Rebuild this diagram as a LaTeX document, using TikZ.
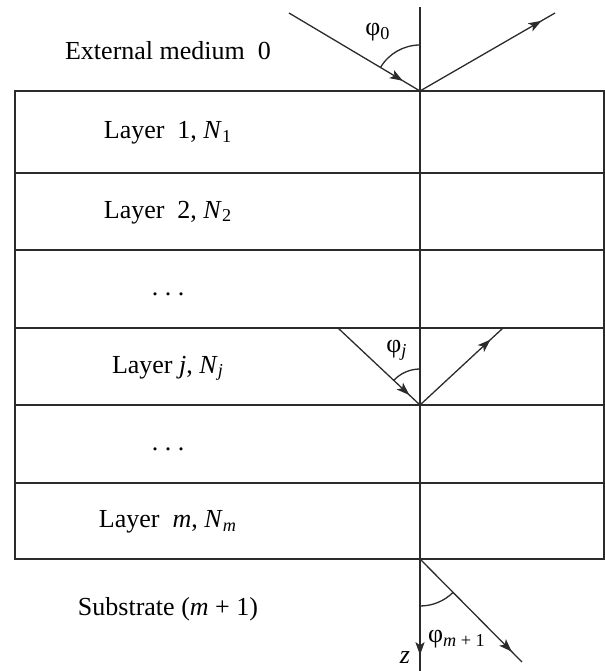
\documentclass[tikz,border=0pt]{standalone}
\usepackage{fontspec}
\setmainfont{Liberation Serif}
\usetikzlibrary{arrows.meta,angles,decorations.markings}

\tikzset{
  line/.style={draw=lineColour, line width=0.65pt},
  ray/.style={line, decoration={markings, mark=at position #1 with {\arrow{Stealth[length=6.5pt,width=4.6pt,inset=1.6pt]}}}, postaction={decorate}},
  layerlabel/.style={text height=9pt, text depth=2.5pt, inner sep=0pt},
}

\begin{document}
\begin{tikzpicture}[x=0.5pt, y=0.5pt, font=\fontsize{13}{15}\selectfont]
    \definecolor{lineColour}{HTML}{2B2B2B}

    \def\xLeft{15}
    \def\xRight{604}
    \def\xNormal{420}

    \useasboundingbox (0,0) rectangle (605,-671);

    % Draw layer stack
    \draw[line] (\xLeft,-91) rectangle (\xRight,-559);
    \foreach \y in {173,250,328,405,483}
        \draw[line] (\xLeft,-\y) -- (\xRight,-\y);

    % Label media and layers
    \foreach \name/\y/\txt in {extMedium/52.5/{External medium~~0},
                                layerOne/132/{Layer~~1, \textit{N}\textsubscript{1}},
                                layerTwo/211.5/{Layer~~2, \textit{N}\textsubscript{2}},
                                dotsOne/289/{.~.~.},
                                layerJ/366.5/{Layer \textit{j}, \textit{N}\textsubscript{\textit{j}}},
                                dotsTwo/444/{.~.~.},
                                layerM/521/{Layer~~\textit{m}, \textit{N}\textsubscript{\textit{m}}},
                                substrate/608.5/{Substrate (\textit{m} + 1)}}
        \node[layerlabel] (\name) at (168,-\y) {\txt};

    % Normal to the interfaces, z axis
    \coordinate (top) at (\xNormal,-7);
    \coordinate (bottom) at (\xNormal,-671);
    \draw[ray=0.976] (top) -- (bottom);

    % Ray in external medium 0
    \coordinate (O0) at (\xNormal,-91);
    \coordinate (inc0) at (289,-13);
    \coordinate (ref0) at (555,-13);
    \draw[ray=0.87] (inc0) -- (O0);
    \draw[ray=0.9] (O0) -- (ref0);
    \pic[line, angle radius=23pt] {angle=top--O0--inc0};

    % Ray in layer j
    \coordinate (Oj) at (\xNormal,-405);
    \coordinate (upJ) at (\xNormal,-328);
    \coordinate (incJ) at (338,-328);
    \coordinate (refJ) at (503,-328);
    \draw[ray=0.87] (incJ) -- (Oj);
    \draw[ray=0.85] (Oj) -- (refJ);
    \pic[line, angle radius=18pt] {angle=upJ--Oj--incJ};

    % Ray in substrate
    \coordinate (Os) at (\xNormal,-559);
    \coordinate (trans) at (522,-662);
    \draw[ray=0.9] (Os) -- (trans);
    \pic[line, angle radius=23.5pt] {angle=bottom--Os--trans};

    \node (phiZero) at (378,-32) {φ\textsubscript{0}};
    \node (phiJ) at (397,-350) {φ\textsubscript{\textit{j}}};
    \node (phiSub) at (457,-639) {φ\textsubscript{\textit{m} + 1}};
    \node (zLabel) at (405,-658) {\textit{z}};

\end{tikzpicture}
\end{document}
